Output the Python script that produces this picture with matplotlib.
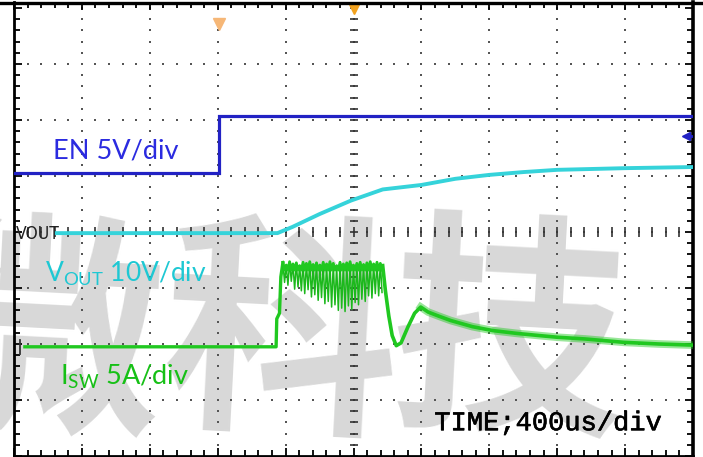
import numpy as np
import matplotlib
matplotlib.use("Agg")
import matplotlib.pyplot as plt
from matplotlib.lines import Line2D
import matplotlib.patheffects as pe

plt.rcParams['font.family'] = ['Lato', 'DejaVu Sans']
plt.rcParams['mathtext.fontset'] = 'custom'
plt.rcParams['mathtext.rm'] = 'Lato'

# ---------------- data (screen divisions: x 0..10, y 0..8) ----------------
en_x = [0.0, 3.02, 3.02, 10.0]
en_y = [5.05, 5.05, 6.07, 6.07]

vout_x = [0.62, 3.88, 4.10, 4.50, 4.96, 5.43, 6.00, 6.50, 7.00, 7.50, 8.00, 9.00, 10.0]
vout_y = [3.98, 3.98, 4.09, 4.32, 4.56, 4.76, 4.84, 4.95, 5.02, 5.07, 5.11, 5.14, 5.16]

isw_rise_x = [0.16, 3.86, 3.87, 3.91, 3.93, 3.96]
isw_rise_y = [1.95, 1.95, 2.45, 2.55, 3.20, 3.45]

isw_osc_y = [3.46, 3.10, 3.41, 3.05, 3.47, 3.12, 3.43, 2.98, 3.45, 3.02,
             3.40, 2.95, 3.46, 2.90, 3.44, 2.97, 3.47, 2.84, 3.42, 2.88,
             3.45, 2.78, 3.41, 2.83, 3.46, 2.72, 3.43, 2.76, 3.47, 2.66,
             3.44, 2.70, 3.40, 2.60, 3.46, 2.64, 3.43, 2.58, 3.45, 2.68,
             3.47, 2.62, 3.41, 2.74, 3.44, 2.70, 3.46, 2.80, 3.42, 2.76,
             3.45, 2.86, 3.47, 2.82, 3.43, 2.90, 3.46, 2.86, 3.44, 2.92]
isw_osc_start, isw_osc_end = 3.96, 5.42

isw_decay_x = [5.43, 5.47, 5.52, 5.57, 5.63, 5.70, 5.80, 5.90, 5.99, 6.10, 6.25,
               6.43, 6.75, 7.05, 7.40, 7.74, 8.01, 8.41, 8.98, 9.50, 10.0]
isw_decay_y = [3.40, 2.95, 2.50, 2.15, 1.97, 2.02, 2.30, 2.55, 2.66, 2.57, 2.50,
               2.42, 2.31, 2.24, 2.19, 2.15, 2.12, 2.09, 2.03, 2.00, 1.98]

watermark_chars = ['微', '科', '技']
watermark_x = [0.45, 3.93, 7.28]

# ---------------- figure ----------------
W, H = 703, 457
fig = plt.figure(figsize=(W / 100, H / 100), dpi=100)
ax = fig.add_axes([14 / W, 1 / H, 679 / W, 454 / H])
ax.set_xlim(0, 10)
ax.set_ylim(0, 454 / 56)

# watermark
for ch, wx in zip(watermark_chars, watermark_x):
    ax.text(wx, 2.0, ch, fontsize=170, fontweight='heavy', color='#d8d8d8',
            family=['Noto Sans CJK SC'], ha='center', va='center',
            rotation=-3, zorder=0.5)

# graticule
blue_c, cyan_c, green_c = '#2222c4', '#35d3da', '#20c820'
dot = dict(ls='none', marker='s', ms=1.6, mew=0, color='#555555', zorder=1)
sub = np.arange(0, 10.01, 0.2)
suby = np.arange(0, 8.01, 0.2)
for gy in range(1, 8):
    ax.plot(sub, np.full_like(sub, gy), **dot)
for gx in range(1, 10):
    ax.plot(np.full_like(suby, gx), suby, **dot)
ax.plot(sub, np.full_like(sub, 4), ls='none', marker='|', ms=7, mew=1.2,
        color='#333333', zorder=1)
ax.plot(np.full_like(suby, 5), suby, ls='none', marker='_', ms=6, mew=1.2,
        color='#333333', zorder=1)

for s in ['left', 'right', 'bottom']:
    ax.spines[s].set_linewidth(2.0)
    ax.spines[s].set_color('black')
ax.spines['right'].set_linewidth(2.6)
ax.spines['top'].set_visible(False)
ax.set_xticks(np.arange(0, 10.01, 1))
ax.set_xticks(np.arange(0, 10.01, 0.2), minor=True)
ax.set_yticks(np.arange(0, 8.01, 1))
ax.set_yticks(np.arange(0, 8.01, 0.2), minor=True)
ax.tick_params(which='both', direction='in', top=True, right=True,
               labelbottom=False, labelleft=False, color='black', width=1.3)
ax.tick_params(which='major', length=6)
ax.tick_params(which='minor', length=4)
fig.add_artist(Line2D([0, 1], [1 - 2.5 / H] * 2, lw=2.4, color='black'))

# traces
ax.plot(en_x, en_y, color=blue_c, lw=2.3, zorder=4, solid_joinstyle='miter')
ax.plot(vout_x, vout_y, color=cyan_c, lw=2.8, zorder=4)
ax.plot(isw_rise_x, isw_rise_y, color=green_c, lw=2.4, zorder=4)
osc_x = np.linspace(isw_osc_start, isw_osc_end, len(isw_osc_y))
ax.plot(osc_x, isw_osc_y, color='#1cb81c', lw=1.1, zorder=4)
ax.plot(osc_x, [max(v, 3.32) for v in isw_osc_y], color=green_c, lw=2.0,
        zorder=4)
ax.plot(isw_decay_x, isw_decay_y, color=green_c, lw=2.6, zorder=4)
ax.plot(isw_decay_x[8:], isw_decay_y[8:], color=green_c, lw=5.5, alpha=0.45,
        zorder=4)

# markers
ax.plot([3.02], [7.72], marker='v', ms=9, color='#f6b777', zorder=5,
        clip_on=False)
ax.plot([5.0], [7.98], marker='v', ms=7, color='#f2a21e', zorder=5,
        clip_on=False)
ax.plot([9.9], [5.71], marker='<', ms=6, color=blue_c, zorder=5)
ax.plot([9.9, 10.0], [5.71, 5.71], color=blue_c, lw=2, zorder=5)
ax.plot([0.09, 0.09], [1.82, 2.08], color='#333333', lw=1.3, zorder=5)

# labels
ax.text(0.575, 5.32, 'EN 5V/div', color='#2b2be0', fontsize=19.5,
        va='baseline', ha='left', zorder=6)
ax.text(0.457, 3.11, r'$\mathregular{V_{OUT}}$ 10V/div', color='#1ec8d3',
        fontsize=19, va='baseline', ha='left', zorder=6)
ax.text(0.68, 1.27, r'$\mathregular{I_{SW}}$ 5A/div', color='#16c016',
        fontsize=19.5, va='baseline', ha='left', zorder=6)
ax.text(6.19, 0.46, 'TIME;400us/div', color='black', fontsize=19.5,
        family=['Liberation Mono', 'DejaVu Sans Mono'], va='baseline',
        ha='left', zorder=6,
        path_effects=[pe.withStroke(linewidth=0.4, foreground='black')])
ax.text(0.03, 3.96, 'VOUT', color='#222222', fontsize=12.5,
        family=['DejaVu Sans'], fontstretch='condensed', va='center',
        ha='left', zorder=6)

fig.savefig('out.png', dpi=100)
